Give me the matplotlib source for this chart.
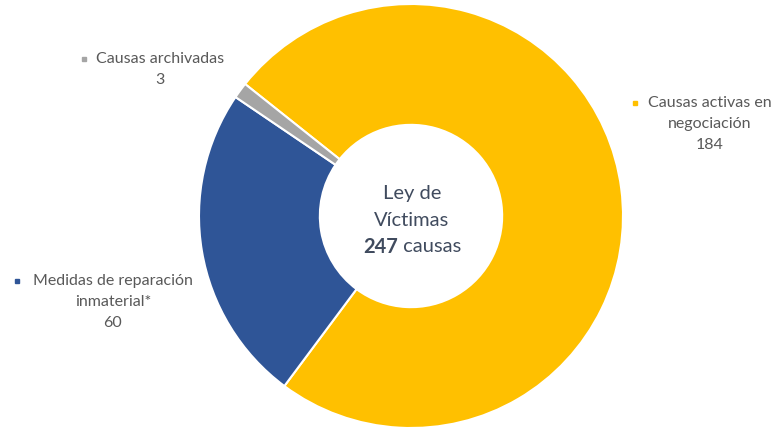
import matplotlib
matplotlib.use("Agg")
import matplotlib.pyplot as plt
from matplotlib.lines import Line2D

# Data
categories = ["Causas activas en\nnegociación", "Medidas de reparación\ninmaterial*", "Causas archivadas"]
values = [184, 60, 3]
colors = ["#FFC000", "#2F5597", "#A5A5A5"]
center_title = ["Ley de", "Víctimas"]
center_unit = "causas"

W, H = 774, 430
fig = plt.figure(figsize=(W / 100, H / 100), dpi=100)
FONT = "Lato"
LABEL_COLOR = "#595959"
CENTER_COLOR = "#404B5E"


def px(x, y):
    """Pixel position (origin top-left) to figure fraction."""
    return x / W, 1 - y / H


# Doughnut
cx, cy, R = 411, 216, 212
ax = fig.add_axes([(cx - R) / W, (H - cy - R) / H, 2 * R / W, 2 * R / H])
ax.pie(values, colors=colors, startangle=141.5, counterclock=False, radius=1,
       wedgeprops=dict(width=0.57, edgecolor="white", linewidth=1.5))
ax.set_xlim(-1, 1)
ax.set_ylim(-1, 1)
ax.set_aspect("auto")
ax.axis("off")

# Category labels: (text centre x, first line y, marker x)
label_pos = [(710, 103, 635), (113, 281, 17), (160, 59, 84)]
line_gap = 21
for cat, val, col, (lx, ly, mx) in zip(categories, values, colors, label_pos):
    lines = cat.split("\n") + [str(val)]
    for i, line in enumerate(lines):
        fig.text(*px(lx, ly + i * line_gap), line, ha="center", va="center",
                 fontsize=11.5, color=LABEL_COLOR, family=FONT)
    fig.add_artist(Line2D([mx / W], [1 - ly / H], marker="s", markersize=3.5,
                          color=col, transform=fig.transFigure))

# Centre text
ccx = 412
for i, line in enumerate(center_title):
    fig.text(*px(ccx, 193 + i * 27), line, ha="center", va="center",
             fontsize=14.5, color=CENTER_COLOR, family=FONT)

renderer = fig.canvas.get_renderer()
t_num = fig.text(0, 0, str(sum(values)), fontsize=14.5, fontweight="bold",
                 color=CENTER_COLOR, family=FONT, va="center", ha="left")
t_unit = fig.text(0, 0, " " + center_unit, fontsize=14.5, color=CENTER_COLOR,
                  family=FONT, va="center", ha="left")
w_num = t_num.get_window_extent(renderer).width
w_unit = t_unit.get_window_extent(renderer).width
x0 = ccx - (w_num + w_unit) / 2
y_line = 1 - 247 / H
t_num.set_position((x0 / W, y_line))
t_unit.set_position(((x0 + w_num) / W, y_line))

fig.savefig("out.png", dpi=100, facecolor="white")
